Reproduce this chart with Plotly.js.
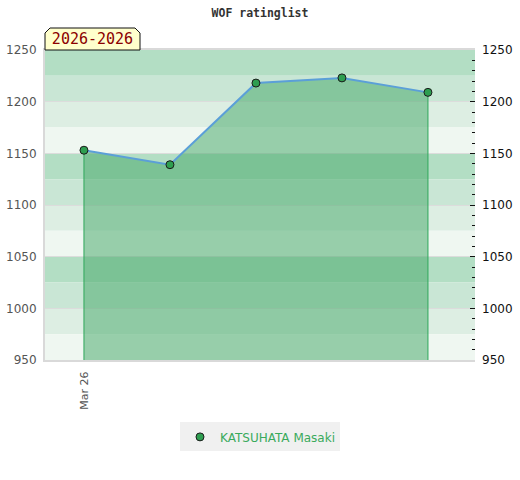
<!DOCTYPE html>
<html><head><meta charset="utf-8">
<script src="https://cdn.plot.ly/plotly-3.0.1.min.js"></script>
<style>html,body{margin:0;padding:0;background:#fff}#chart{width:520px;height:480px}</style>
</head><body><div id="chart"></div>
<script>
const chartTitle = 'WOF ratinglist';
const periodLabel = '2026-2026';
const playerName = 'KATSUHATA Masaki';
const pointIndex = [0, 1, 2, 3, 4];
const ratings = [1153, 1139, 1218, 1223, 1209];
const xTickPositions = [0];
const xTickLabels = ['Mar 26'];
const yTicks = [950, 1000, 1050, 1100, 1150, 1200, 1250];
const yMin = 950, yMax = 1250, bandStep = 25;
const bandColors = ['#b3dec4', '#c9e6d5', '#ddeee3', '#eff7f1'];

const plotW = 430, plotH = 310;
const shapes = [];
for (let top = yMax, i = 0; top > yMin; top -= bandStep, i++) {
  shapes.push({type: 'rect', xref: 'paper', yref: 'y', x0: 0, x1: 1, y0: top - bandStep, y1: top,
    fillcolor: bandColors[i % 4], line: {width: 0}, layer: 'below'});
}
// label box with cut top corners (pixel sizes converted to paper units)
const bw = 95 / plotW, bh = 22 / plotH, cx = 5 / plotW, cy = 5 / plotH;
shapes.push({type: 'path', xref: 'paper', yref: 'paper', layer: 'above',
  path: `M 0 1 L 0 ${1 + bh - cy} L ${cx} ${1 + bh} L ${bw - cx} ${1 + bh} L ${bw} ${1 + bh - cy} L ${bw} 1 Z`,
  fillcolor: '#ffffcc', line: {color: '#111', width: 1}});

const lastI = pointIndex.length - 1;
const traces = [
  {x: pointIndex, y: ratings, mode: 'none', fill: 'tozeroy', fillcolor: 'rgba(70,168,105,0.52)', showlegend: false, hoverinfo: 'skip'},
  {x: [pointIndex[0], pointIndex[0], null, pointIndex[lastI], pointIndex[lastI]],
   y: [yMin, ratings[0], null, yMin, ratings[lastI]], mode: 'lines', line: {color: '#2fa85a', width: 1}, showlegend: false, hoverinfo: 'skip'},
  {x: pointIndex, y: ratings, mode: 'lines', line: {color: '#5b9fd8', width: 2}, showlegend: false},
  {x: pointIndex, y: ratings, mode: 'markers', name: playerName,
   marker: {color: '#2e9e50', size: 8, line: {color: '#1a1a1a', width: 1}}},
  {x: pointIndex, y: ratings, yaxis: 'y2', mode: 'none', showlegend: false, hoverinfo: 'skip'}
];

const layout = {
  width: 520, height: 480,
  margin: {l: 45, r: 45, t: 50, b: 120},
  paper_bgcolor: '#ffffff', plot_bgcolor: '#ffffff',
  font: {family: 'DejaVu Sans', size: 11, color: '#555'},
  title: {text: '<b>' + chartTitle + '</b>', x: 0.5, xanchor: 'center', y: 0.973, yanchor: 'middle',
    font: {family: 'DejaVu Sans Mono', size: 11.5, color: '#333'}},
  xaxis: {range: [-0.453, 4.547], tickvals: xTickPositions, ticktext: xTickLabels, tickangle: -90,
    showgrid: false, zeroline: false, showline: true, linecolor: '#d9d9d9', linewidth: 2, mirror: true,
    ticks: '', tickfont: {size: 11, color: '#555'}, ticklabelstandoff: 5},
  yaxis: {range: [yMin, yMax], tickvals: yTicks, showgrid: true, gridcolor: '#dcdcdc', gridwidth: 1,
    zeroline: false, showline: true, linecolor: '#d9d9d9', linewidth: 2, ticks: '',
    tickfont: {size: 12, color: '#555'}, ticklabelstandoff: 4},
  yaxis2: {range: [yMin, yMax], tickvals: yTicks, overlaying: 'y', side: 'right', showgrid: false,
    zeroline: false, ticks: 'inside', ticklen: 5, tickcolor: '#111', tickwidth: 1,
    minor: {dtick: 10, ticks: 'inside', ticklen: 3, tickcolor: '#111', tickwidth: 1, showgrid: false},
    tickfont: {size: 12, color: '#111'}, ticklabelstandoff: 6},
  shapes: shapes,
  annotations: [{text: periodLabel, xref: 'paper', yref: 'paper', x: 0, y: 1, xanchor: 'left', yanchor: 'bottom',
    showarrow: false, width: 95, height: 22, align: 'center', valign: 'middle', borderpad: 0, borderwidth: 0,
    font: {family: 'DejaVu Sans Mono', size: 15, color: '#8b0000'}}],
  legend: {orientation: 'h', x: 0.5, xanchor: 'center', y: -0.248, yanchor: 'middle',
    bgcolor: '#f0f0f0', font: {size: 12, color: '#3aaa5c'}, itemwidth: 30},
  hovermode: false
};
Plotly.newPlot('chart', traces, layout, {displayModeBar: false, staticPlot: true});
</script></body></html>
